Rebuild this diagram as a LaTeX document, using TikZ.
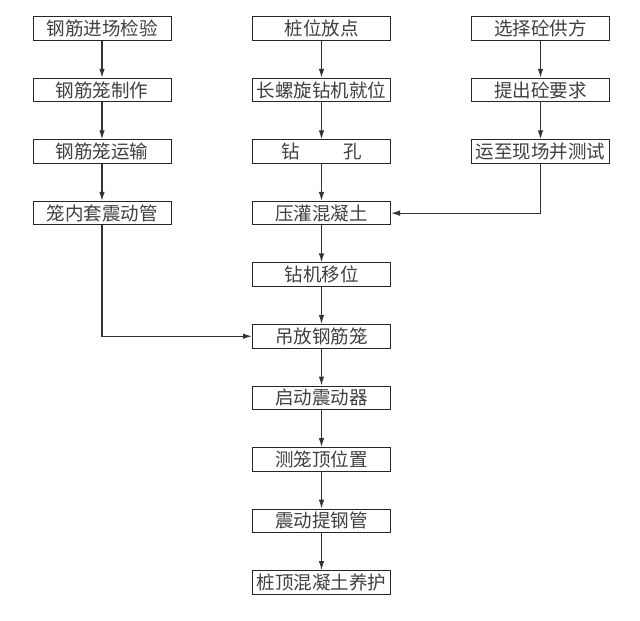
\documentclass[tikz,border=0pt]{standalone}
\usepackage{fontspec}
\setmainfont{Noto Sans CJK SC}
\usetikzlibrary{arrows.meta}
\begin{document}
\begin{tikzpicture}[x=1pt,y=-1pt,
  box/.style={draw=black!85, line width=1pt, minimum width=138pt, minimum height=23.5pt,
    inner sep=0pt, text=black!75, font=\fontsize{18.5}{18.5}\selectfont},
  arr/.style={draw=black!80, line width=1.2pt, -{Latex[length=9pt,width=5.5pt]}}
]
\useasboundingbox[fill=white] (0,0) rectangle (640,621);
% left column
\node[box] (a1) at (102,28.5)  {钢筋进场检验};
\node[box] (a2) at (102,90.05) {钢筋笼制作};
\node[box] (a3) at (102,151.6) {钢筋笼运输};
\node[box] (a4) at (102,213.15) {笼内套震动管};
% middle column
\node[box] (m1) at (321.5,28.5)  {桩位放点};
\node[box] (m2) at (321.5,90.05) {长螺旋钻机就位};
\node[box] (m3) at (321.5,151.6) {钻\hspace{44pt}孔};
\node[box] (m4) at (321.5,213.15) {压灌混凝土};
\node[box] (m5) at (321.5,274.7) {钻机移位};
\node[box] (m6) at (321.5,336.25) {吊放钢筋笼};
\node[box] (m7) at (321.5,397.8) {启动震动器};
\node[box] (m8) at (321.5,459.35) {测笼顶位置};
\node[box] (m9) at (321.5,520.9) {震动提钢管};
\node[box] (m10) at (321.5,582.45) {桩顶混凝土养护};
% right column
\node[box] (r1) at (540.5,28.5)  {选择砼供方};
\node[box] (r2) at (540.5,90.05) {提出砼要求};
\node[box] (r3) at (540.5,151.6) {运至现场并测试};
% connectors
\draw[arr] (a1) -- (a2);
\draw[arr] (a2) -- (a3);
\draw[arr] (a3) -- (a4);
\draw[arr] (a4.south) |- (m6.west);
\draw[arr] (m1) -- (m2);
\draw[arr] (m2) -- (m3);
\draw[arr] (m3) -- (m4);
\draw[arr] (m4) -- (m5);
\draw[arr] (m5) -- (m6);
\draw[arr] (m6) -- (m7);
\draw[arr] (m7) -- (m8);
\draw[arr] (m8) -- (m9);
\draw[arr] (m9) -- (m10);
\draw[arr] (r1) -- (r2);
\draw[arr] (r2) -- (r3);
\draw[arr] (r3.south) |- (m4.east);
\end{tikzpicture}
\end{document}
